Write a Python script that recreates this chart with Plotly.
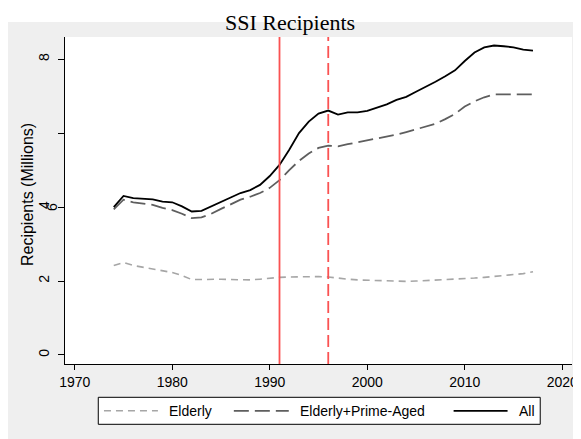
import plotly.graph_objects as go

years = list(range(1974, 2018))

# recipients, millions
all_recipients = [4.00, 4.30, 4.24, 4.22, 4.21, 4.15, 4.13, 4.02, 3.88, 3.90,
                  4.02, 4.13, 4.26, 4.38, 4.46, 4.60, 4.84, 5.14, 5.55, 6.00,
                  6.31, 6.53, 6.61, 6.50, 6.56, 6.56, 6.60, 6.68, 6.78, 6.90,
                  6.98, 7.12, 7.25, 7.39, 7.54, 7.70, 7.95, 8.18, 8.32, 8.37,
                  8.35, 8.32, 8.26, 8.23]
elderly_prime = [3.94, 4.20, 4.13, 4.10, 4.06, 3.98, 3.92, 3.82, 3.70, 3.72,
                 3.82, 3.95, 4.08, 4.20, 4.28, 4.38, 4.52, 4.73, 5.00, 5.25,
                 5.45, 5.60, 5.66, 5.64, 5.70, 5.75, 5.80, 5.86, 5.92, 5.96,
                 6.03, 6.10, 6.17, 6.25, 6.38, 6.52, 6.72, 6.86, 6.97, 7.05,
                 7.05, 7.05, 7.05, 7.05]
elderly = [2.42, 2.50, 2.42, 2.37, 2.33, 2.28, 2.23, 2.15, 2.04, 2.04,
           2.05, 2.05, 2.04, 2.03, 2.03, 2.05, 2.08, 2.10, 2.11, 2.12,
           2.12, 2.12, 2.11, 2.07, 2.05, 2.03, 2.02, 2.01, 2.00, 1.99,
           1.99, 2.00, 2.01, 2.02, 2.04, 2.05, 2.06, 2.08, 2.10, 2.12,
           2.14, 2.17, 2.20, 2.25]

event_years = [1991, 1996]
x_ticks = [1970, 1980, 1990, 2000, 2010, 2020]
y_ticks = [0, 2, 4, 6, 8]
y_ticktext = ["0", "2", "4", "", "8"]

# the page puts the figure 8px in from the top-left corner
OFF = 8
W, H = 581, 439
# plot box, in page pixels
BOX_L, BOX_R, BOX_T, BOX_B = 65, 572.5, 37, 364
PW, PH = BOX_R - BOX_L, BOX_B - BOX_T

def px(x):
    return (x - BOX_L) / PW

def py(y):
    return (BOX_B - y) / PH

FONT = "Liberation Sans, Arial, sans-serif"
GRAY_BG = "#efefef"
RED = "#fa5252"

styles = {
    "Elderly": dict(color="#a6a6a6", width=1.6, dash="7px,5px"),
    "Elderly+Prime-Aged": dict(color="#5e5e5e", width=1.8, dash="15px,6px"),
    "All": dict(color="black", width=1.8, dash="solid"),
}

fig = go.Figure()
for name, vals in [("Elderly", elderly), ("Elderly+Prime-Aged", elderly_prime), ("All", all_recipients)]:
    fig.add_trace(go.Scatter(x=years, y=vals, mode="lines", name=name, line=styles[name]))

shapes = [
    # white strip above the gray graph region
    dict(type="rect", xref="paper", yref="paper", x0=px(-20), x1=px(W + 20), y0=py(22), y1=py(-20),
         fillcolor="white", line_width=0, layer="below"),
]
for yr, dash in zip(event_years, ["solid", "12px,5px"]):
    shapes.append(dict(type="line", xref="x", yref="paper", x0=yr, x1=yr, y0=0, y1=1,
                       line=dict(color=RED, width=1.8, dash=dash)))

# legend box drawn by hand (Stata style)
shapes.append(dict(type="rect", xref="paper", yref="paper", x0=px(98.3), x1=px(540.7),
                   y0=py(424.3), y1=py(397.3), fillcolor="white", line=dict(color="black", width=1)))
legend_items = [("Elderly", 104, 158, 167.5), ("Elderly+Prime-Aged", 234, 289, 298),
                ("All", 454, 508, 517)]
annotations = []
for name, x0, x1, tx in legend_items:
    shapes.append(dict(type="line", xref="paper", yref="paper", x0=px(x0), x1=px(x1),
                       y0=py(410.8), y1=py(410.8), line=styles[name]))
    annotations.append(dict(text=name, xref="paper", yref="paper", x=px(tx), y=py(410.8),
                            xanchor="left", yanchor="middle", showarrow=False,
                            font=dict(family=FONT, size=14, color="black")))

annotations += [
    dict(text="SSI Recipients", xref="paper", yref="paper", x=px(290.5), y=py(OFF + 0.5),
         xanchor="center", yanchor="top", showarrow=False,
         font=dict(family="Liberation Serif, serif", size=22, color="black")),
    dict(text="Recipients (Millions)", xref="paper", yref="paper", x=px(28), y=py(195),
         xanchor="center", yanchor="middle", textangle=-90, showarrow=False,
         font=dict(family=FONT, size=16, color="black")),
    # stray "6" label sitting next to the 4
    dict(text="6", xref="paper", yref="y", x=px(52), y=4, xanchor="center", yanchor="middle",
         textangle=-90, showarrow=False, font=dict(family=FONT, size=14, color="black")),
]

fig.update_layout(
    width=W, height=H,
    margin=dict(l=BOX_L - OFF, r=W - (BOX_R - OFF), t=BOX_T - OFF, b=H - (BOX_B - OFF),
                autoexpand=False),
    paper_bgcolor=GRAY_BG, plot_bgcolor="white",
    showlegend=False,
    shapes=shapes, annotations=annotations,
    font=dict(family=FONT, size=14, color="black"),
)
fig.update_xaxes(range=[1969, 2021], tickvals=x_ticks, showgrid=False, zeroline=False,
                 showline=True, linecolor="black", linewidth=1,
                 ticks="outside", ticklen=5, tickcolor="black",
                 tickfont=dict(family=FONT, size=14))
fig.update_yaxes(range=[-0.244, 8.60], tickvals=y_ticks, ticktext=y_ticktext, tickangle=-90,
                 ticklabelstandoff=3,
                 showgrid=False, zeroline=False, showline=True, linecolor="black", linewidth=1,
                 ticks="outside", ticklen=6, tickcolor="black",
                 tickfont=dict(family=FONT, size=14))

fig.write_html("out.html")
